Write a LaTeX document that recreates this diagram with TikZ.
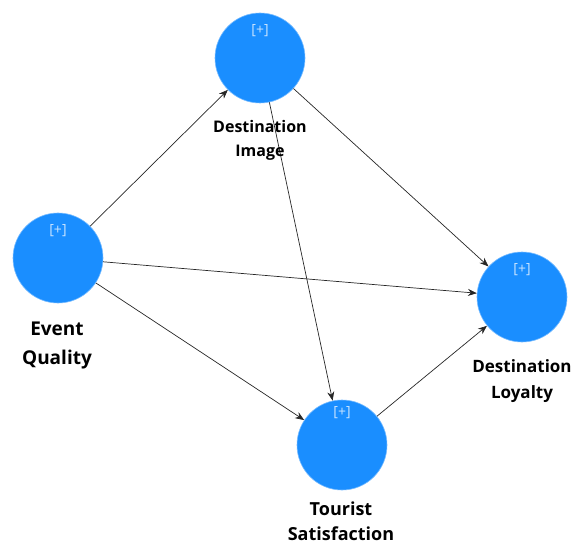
\documentclass[tikz,border=0pt]{standalone}
\usepackage{fontspec}
\setmainfont{Open Sans}
\usetikzlibrary{arrows.meta}
\definecolor{lvblue}{RGB}{26,142,255}
\definecolor{plusc}{RGB}{200,228,255}
\tikzset{
  lv/.style={circle, fill=lvblue, draw=lvblue!60, line width=0.6pt, minimum size=90pt, inner sep=0pt},
  lbl/.style={align=center, text=black, inner sep=1pt},
  plus/.style={text=plusc, font=\fontsize{14}{16}\selectfont},
  path/.style={draw=black!85, line width=0.7pt, -{Stealth[length=9pt,width=7pt]}}
}
\begin{document}
\begin{tikzpicture}[x=1pt,y=-1pt]
\useasboundingbox (0,0) rectangle (583,545);
\node[lv] (DI) at (260,58) {};
\node[lv] (EQ) at (58,258) {};
\node[lv] (TS) at (342,445) {};
\node[lv] (DL) at (522,297) {};
\node[plus] (pDI) at (260,31) {[+]};
\node[plus] (pEQ) at (58,231) {[+]};
\node[plus] (pTS) at (342,413) {[+]};
\node[plus] (pDL) at (522,270) {[+]};
\draw[path] (EQ) -- (DI);
\draw[path] (EQ) -- (DL);
\draw[path] (EQ) -- (TS);
\draw[path] (DI) -- (DL);
\draw[path] (DI) -- (TS);
\draw[path] (TS) -- (DL);
\node[lbl, font=\bfseries\fontsize{16}{24}\selectfont] (tDI) at (260,140) {Destination\\Image};
\node[lbl, font=\bfseries\fontsize{19}{29}\selectfont] (tEQ) at (57,345) {Event\\Quality};
\node[lbl, font=\bfseries\fontsize{18}{25}\selectfont] (tTS) at (341,521) {Tourist\\Satisfaction};
\node[lbl, font=\bfseries\fontsize{17}{26}\selectfont] (tDL) at (522,381) {Destination\\Loyalty};
\end{tikzpicture}
\end{document}
